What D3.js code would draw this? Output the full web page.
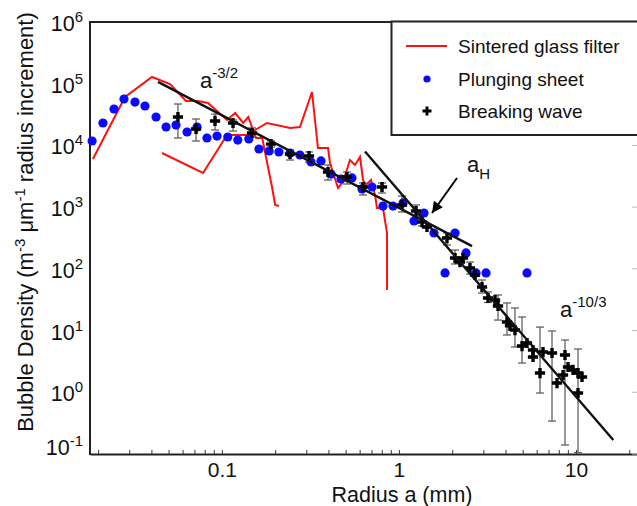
<!DOCTYPE html>
<html>
<head>
<meta charset="utf-8">
<script src="https://cdn.jsdelivr.net/npm/d3@7"></script>
<style>
  body { margin: 0; background: #fff; }
  svg { display: block; }
  text { font-family: "Liberation Sans", Arial, sans-serif; fill: #111; }
</style>
</head>
<body>
<svg id="chart" width="637" height="506"></svg>
<script>
// ---- Sintered glass filter runs (radius mm, density m^-3 um^-1) ----
const filterRadiusA = [0.0187, 0.0284, 0.0403, 0.0510, 0.0627, 0.0733, 0.0835, 0.107, 0.119, 0.132, 0.141, 0.156, 0.169, 0.192, 0.200, 0.210];
const filterDensityA = [6030, 60900, 128500, 98900, 52500, 52500, 48700, 25800, 33500, 23100, 28900, 13200, 13200, 2120, 1083, 1043];

const filterRadiusB = [0.0459, 0.0783, 0.107, 0.141, 0.154, 0.180, 0.243, 0.276, 0.323, 0.349, 0.398, 0.408, 0.453, 0.483, 0.529, 0.565, 0.603, 0.627, 0.652, 0.696, 0.733, 0.752, 0.813, 0.857, 0.857];
const filterDensityB = [7540, 3575, 14750, 14750, 17800, 23100, 19200, 19900, 73400, 9085, 9085, 5190, 2043, 2555, 5805, 4818, 6495, 2753, 2284, 2753, 1573, 969, 969, 381, 45.4];

// ---- Plunging sheet ----
const sheetRadius = [0.0185, 0.0213, 0.0246, 0.0280, 0.0323, 0.0368, 0.0425, 0.0484, 0.0551, 0.0636, 0.0724, 0.0824, 0.0939, 0.108, 0.123, 0.142, 0.162, 0.185, 0.210, 0.243, 0.276, 0.319, 0.363, 0.414, 0.471, 0.543, 0.619, 0.705, 0.813, 0.926, 1.055, 1.217, 1.386, 1.578, 1.822, 2.075, 2.393, 2.726, 3.105, 5.29];
const sheetDensity = [11800, 23100, 38900, 56500, 50500, 43500, 28900, 19900, 21400, 16500, 19900, 13200, 14200, 13700, 12200, 12700, 8750, 8120, 7830, 7540, 7000, 5390, 5600, 3440, 2860, 2970, 1970, 2120, 1040, 1040, 1170, 596, 804, 381, 86, 381, 181, 86, 86, 86];

// ---- Breaking wave (mean with error range; null = no bar) ----
const waveRadius = [0.0565, 0.0715, 0.0915, 0.1156, 0.148, 0.1895, 0.2426, 0.3106, 0.3977, 0.509, 0.627, 0.803, 1.041, 1.249, 1.351, 1.441, 1.869, 2.075, 2.214, 2.301, 2.52, 2.69, 2.947, 3.186, 3.49, 3.628, 4.078, 4.24, 4.525, 4.958, 5.29, 5.72, 5.72, 6.265, 6.515, 7.323, 7.816, 8.452, 8.672, 9.018, 9.623, 10.27, 10.82, 10.27];
const waveDensity = [28900, 18500, 24900, 23100, 15900, 10500, 7260, 6740, 3710, 3080, 2120, 2120, 1083, 866, 574, 477, 316, 150, 129, 150, 103, 79.5, 50.8, 33.7, 31.3, 25.0, 13.8, 11.9, 10.2, 5.62, 6.29, 4.84, 3.73, 2.05, 4.49, 4.33, 1.41, 1.905, 4.02, 2.57, 2.30, 2.05, 1.77, 0.973];
const waveLow = [13200, 11800, 17800, 17100, 13700, 9430, 5800, 5390, 2750, 2370, 1573, 1695, 834, 718, 495, null, 244, 120, null, null, 82.5, null, 40.6, 28.5, null, 14.8, 8.48, null, 5.42, 2.98, null, null, null, 0.973, null, 0.342, null, null, 0.14, null, null, 0.105, null, null];
const waveHigh = [46900, 26800, 32300, 25800, 19200, 11800, 8430, 7830, 4820, 3710, 2460, 2460, 1515, 1083, 718, null, 381, 202, null, null, 129, null, 66, 42.2, null, 37.7, 28.0, null, 23.2, 16.6, null, null, null, 11.4, null, 9.84, null, null, 7.03, null, null, 5.03, null, null];

// ---- Power-law guides: density = coef * a^exponent over [from, to] ----
const guideExponents = [-3 / 2, -10 / 3];
const guideCoefs = [973, 1828];
const guideFrom = [0.0436, 0.6435];
const guideTo = [2.59, 16.25];

// ---- Axis ticks ----
const xTickLabels = [0.1, 1, 10];
const yTickExponents = [-1, 0, 1, 2, 3, 4, 5, 6];

const svg = d3.select("#chart");
const x = d3.scaleLog().domain([0.018, 23]).range([90, 640]);
const y = d3.scaleLog().domain([0.1, 1e6]).range([454, 22]);

// minor ticks on the radius axis
const minorTicks = [];
[0.01, 0.1, 1, 10].forEach(d => d3.range(1, 10).forEach(m => {
  const v = +(m * d).toPrecision(3);
  if (v >= 0.018 && v <= 23) minorTicks.push(v);
}));

const xAxis = d3.axisBottom(x)
  .tickValues(minorTicks)
  .tickSizeInner(-4)
  .tickSizeOuter(0)
  .tickPadding(8)
  .tickFormat(d => xTickLabels.includes(d) ? String(d) : "");

const gx = svg.append("g").attr("transform", "translate(0,454)").call(xAxis);
gx.select(".domain").attr("stroke", "#222").attr("stroke-width", 2);
gx.selectAll(".tick line").attr("stroke", "#333").attr("stroke-width", 1);
gx.selectAll(".tick text").style("font-size", "21px").attr("fill", "#111");

// frame: left and top edges
svg.append("line").attr("x1", 90).attr("x2", 90).attr("y1", 21).attr("y2", 455)
  .attr("stroke", "#222").attr("stroke-width", 2);
svg.append("line").attr("x1", 89).attr("x2", 640).attr("y1", 22).attr("y2", 22)
  .attr("stroke", "#222").attr("stroke-width", 2);

// right axis ticks at decades (axis itself sits just past the edge)
svg.append("g").selectAll("line").data(yTickExponents).join("line")
  .attr("x1", 632).attr("x2", 640)
  .attr("y1", d => y(Math.pow(10, d))).attr("y2", d => y(Math.pow(10, d)))
  .attr("stroke", "#bbb").attr("stroke-width", 1);

// y tick labels as powers of ten
const yLab = svg.append("g").selectAll("text").data(yTickExponents).join("text")
  .attr("x", 83)
  .attr("y", d => y(Math.pow(10, d)) + (d === -1 ? 1 : 9))
  .attr("text-anchor", "end")
  .style("font-size", "21.5px");
yLab.append("tspan").text("10");
yLab.append("tspan").attr("dy", -9).style("font-size", "15px").text(d => String(d));

// axis titles
svg.append("text")
  .attr("x", 402).attr("y", 502)
  .attr("text-anchor", "middle")
  .style("font-size", "21.5px")
  .text("Radius a (mm)");

const yTitle = svg.append("text")
  .attr("transform", "translate(33,222) rotate(-90)")
  .attr("text-anchor", "middle")
  .style("font-size", "22px");
yTitle.append("tspan").text("Bubble Density (m");
yTitle.append("tspan").attr("dy", -8).style("font-size", "15px").text("-3");
yTitle.append("tspan").attr("dy", 8).text(" \u03bcm");
yTitle.append("tspan").attr("dy", -8).style("font-size", "15px").text("-1");
yTitle.append("tspan").attr("dy", 8).text(" radius increment)");

// ---- data layers ----
const line = d3.line().x(d => x(d[0])).y(d => y(d[1]));

[[filterRadiusA, filterDensityA], [filterRadiusB, filterDensityB]].forEach(([r, v]) => {
  svg.append("path")
    .datum(d3.zip(r, v))
    .attr("d", line)
    .attr("fill", "none")
    .attr("stroke", "#ff1010")
    .attr("stroke-width", 2)
    .attr("stroke-linejoin", "miter");
});

// error bars
const bars = d3.range(waveRadius.length).filter(i => waveLow[i] != null && waveHigh[i] != null);
const gErr = svg.append("g").attr("stroke", "#555").attr("stroke-width", 1.2);
gErr.selectAll("line.v").data(bars).join("line").attr("class", "v")
  .attr("x1", i => x(waveRadius[i])).attr("x2", i => x(waveRadius[i]))
  .attr("y1", i => y(waveLow[i])).attr("y2", i => y(waveHigh[i]));
gErr.selectAll("line.lo").data(bars).join("line").attr("class", "lo")
  .attr("x1", i => x(waveRadius[i]) - 4).attr("x2", i => x(waveRadius[i]) + 4)
  .attr("y1", i => y(waveLow[i])).attr("y2", i => y(waveLow[i]));
gErr.selectAll("line.hi").data(bars).join("line").attr("class", "hi")
  .attr("x1", i => x(waveRadius[i]) - 4).attr("x2", i => x(waveRadius[i]) + 4)
  .attr("y1", i => y(waveHigh[i])).attr("y2", i => y(waveHigh[i]));

// plunging sheet dots
svg.append("g").selectAll("circle").data(d3.zip(sheetRadius, sheetDensity)).join("circle")
  .attr("cx", d => x(d[0])).attr("cy", d => y(d[1])).attr("r", 4.6)
  .attr("fill", "#0a0aff");

// breaking wave crosses
const cross = d3.symbol().type(d3.symbolCross).size(58);
svg.append("g").selectAll("path").data(d3.zip(waveRadius, waveDensity)).join("path")
  .attr("d", cross)
  .attr("transform", d => `translate(${x(d[0])},${y(d[1])})`)
  .attr("fill", "#000");

// power-law guides
guideExponents.forEach((p, i) => {
  const pts = [guideFrom[i], guideTo[i]].map(a => [a, guideCoefs[i] * Math.pow(a, p)]);
  svg.append("path").datum(pts).attr("d", line)
    .attr("stroke", "#111").attr("stroke-width", 2.4).attr("fill", "none");
});

// annotations
function powerLabel(ax, ay, sup) {
  const t = svg.append("text").attr("x", x(ax)).attr("y", y(ay)).style("font-size", "22px");
  t.append("tspan").text("a");
  t.append("tspan").attr("dy", -10).style("font-size", "15px").text(sup);
}
powerLabel(0.0753, 85200, "-3/2");
powerLabel(8.13, 16.3, "-10/3");

const aH = svg.append("text").attr("x", x(2.424)).attr("y", y(3710)).style("font-size", "22px");
aH.append("tspan").text("a");
aH.append("tspan").attr("dy", 7).style("font-size", "15px").text("H");

svg.append("defs").append("marker")
  .attr("id", "head").attr("viewBox", "0 0 10 10")
  .attr("refX", 10).attr("refY", 5)
  .attr("markerWidth", 15).attr("markerHeight", 11)
  .attr("markerUnits", "userSpaceOnUse")
  .attr("orient", "auto")
  .append("path").attr("d", "M0,0 L10,5 L0,10 Z").attr("fill", "#000");

svg.append("line")
  .attr("x1", x(2.129)).attr("y1", y(2966))
  .attr("x2", x(1.538)).attr("y2", y(804))
  .attr("stroke", "#000").attr("stroke-width", 2)
  .attr("marker-end", "url(#head)");

// ---- legend ----
const lg = svg.append("g");
lg.append("rect").attr("x", 391.5).attr("y", 21.5).attr("width", 260).attr("height", 113.5)
  .attr("fill", "#fff").attr("stroke", "#222").attr("stroke-width", 2);
const legendNames = ["Sintered glass filter", "Plunging sheet", "Breaking wave"];
const rowY = [46, 79, 111];
lg.append("line").attr("x1", 406).attr("x2", 447).attr("y1", rowY[0]).attr("y2", rowY[0])
  .attr("stroke", "#ff1010").attr("stroke-width", 2);
lg.append("circle").attr("cx", 427).attr("cy", rowY[1]).attr("r", 3.6).attr("fill", "#0a0aff");
lg.append("path").attr("d", d3.symbol().type(d3.symbolCross).size(45))
  .attr("transform", `translate(427,${rowY[2]})`).attr("fill", "#000");
lg.selectAll("text.name").data(legendNames).join("text").attr("class", "name")
  .attr("x", 458).attr("y", (d, i) => rowY[i] + 7)
  .style("font-size", "19px")
  .text(d => d);
</script>
</body>
</html>
